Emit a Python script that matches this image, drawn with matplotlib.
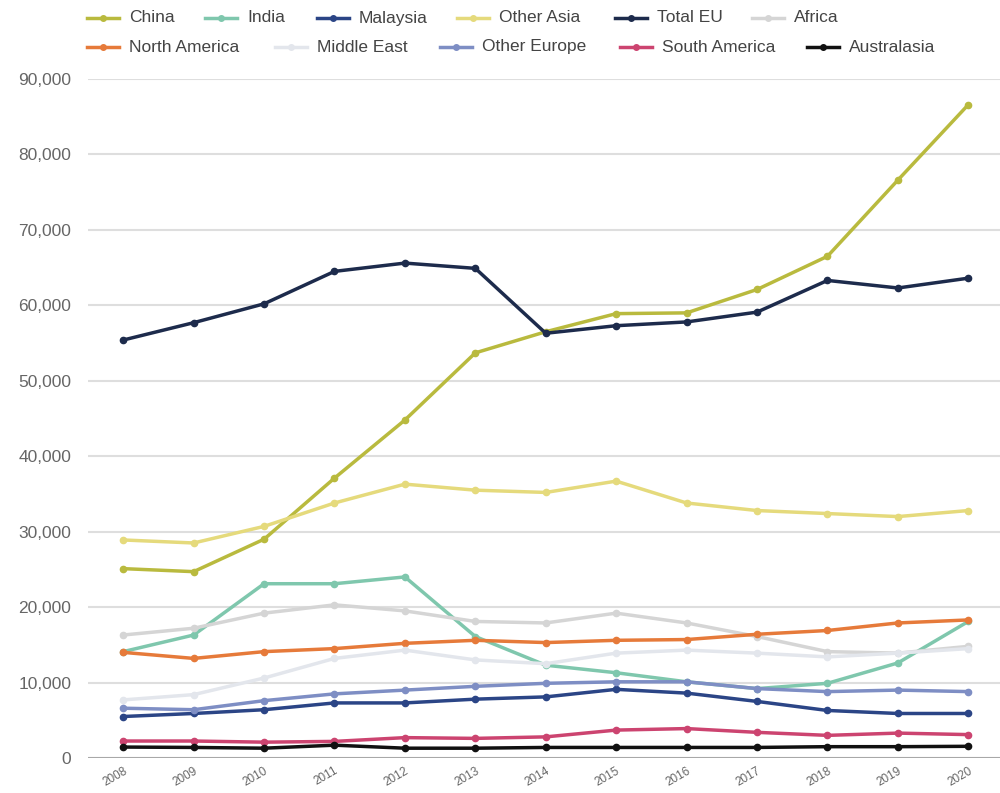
import matplotlib
matplotlib.use("Agg")
import matplotlib.pyplot as plt
from matplotlib.lines import Line2D
from matplotlib.ticker import FuncFormatter, MultipleLocator

plt.rcParams['font.family'] = ['Liberation Sans', 'DejaVu Sans']

years = ["2008", "2009", "2010", "2011", "2012", "2013", "2014",
         "2015", "2016", "2017", "2018", "2019", "2020"]

china = [25100, 24700, 29000, 37100, 44800, 53700, 56500, 58900, 59000, 62100, 66500, 76600, 86600]
india = [14100, 16300, 23100, 23100, 24000, 16100, 12300, 11300, 10100, 9200, 9900, 12600, 18100]
malaysia = [5500, 5900, 6400, 7300, 7300, 7800, 8100, 9100, 8600, 7500, 6300, 5900, 5900]
other_asia = [28900, 28500, 30700, 33800, 36300, 35500, 35200, 36700, 33800, 32800, 32400, 32000, 32800]
total_eu = [55400, 57700, 60200, 64500, 65600, 64900, 56300, 57300, 57800, 59100, 63300, 62300, 63600]
africa = [16300, 17200, 19200, 20300, 19500, 18100, 17900, 19200, 17900, 16100, 14100, 13900, 14800]
north_america = [14000, 13200, 14100, 14500, 15200, 15600, 15300, 15600, 15700, 16400, 16900, 17900, 18300]
middle_east = [7700, 8400, 10600, 13200, 14300, 13000, 12500, 13900, 14300, 13900, 13400, 13900, 14500]
other_europe = [6600, 6400, 7600, 8500, 9000, 9500, 9900, 10100, 10100, 9200, 8800, 9000, 8800]
south_america = [2250, 2250, 2100, 2200, 2700, 2600, 2800, 3700, 3900, 3400, 3000, 3300, 3100]
australasia = [1450, 1400, 1300, 1700, 1300, 1300, 1400, 1400, 1400, 1400, 1500, 1500, 1550]

series = [
    ("China", china, "#b9ba3e"),
    ("India", india, "#7fc7ad"),
    ("Malaysia", malaysia, "#2b4586"),
    ("Other Asia", other_asia, "#e5da7c"),
    ("Total EU", total_eu, "#1d2b4c"),
    ("Africa", africa, "#d5d5d5"),
    ("North America", north_america, "#e67a3a"),
    ("Middle East", middle_east, "#e3e6ec"),
    ("Other Europe", other_europe, "#7e8ec4"),
    ("South America", south_america, "#cc4470"),
    ("Australasia", australasia, "#111111"),
]

W, H = 1000, 793
fig = plt.figure(figsize=(W / 100, H / 100), dpi=100)
ax = fig.add_axes([88 / W, 35 / H, (W - 88) / W, (758 - 79) / H])

x = list(range(len(years)))
for name, vals, col in series:
    ax.plot(x, vals, color=col, lw=2.5, marker='o', ms=4.5,
            markerfacecolor=col, markeredgecolor=col, solid_capstyle='round', zorder=3)

ax.set_xlim(-0.5, 12.45)
ax.set_ylim(0, 90000)
ax.yaxis.set_major_locator(MultipleLocator(10000))
ax.yaxis.set_major_formatter(FuncFormatter(lambda v, p: f"{int(v):,}"))
ax.grid(axis='y', color='#dedede', lw=1.5, zorder=0)
ax.set_axisbelow(True)
for s in ax.spines.values():
    s.set_visible(False)
ax.axhline(0, color='#a8a8a8', lw=2.2, zorder=2)
ax.tick_params(axis='both', length=0, colors='#666666', labelsize=12.5)
ax.tick_params(axis='y', pad=12)
ax.set_xticks(x)
ax.set_xticklabels(years, rotation=30, ha='right', rotation_mode='anchor', fontsize=8.5)
ax.tick_params(axis='x', pad=5)

# legend in two flowing rows, drawn in figure pixels
row1_y, row2_y = 18, 47
starts = [87, 205, 317, 457, 615, 752, 87, 275, 440, 620, 807]
rows = [row1_y] * 6 + [row2_y] * 5
for (name, vals, col), sx, ry in zip(series, starts, rows):
    yy = 1 - ry / H
    fig.add_artist(Line2D([sx / W, (sx + 32) / W], [yy, yy], color=col, lw=2.5,
                          transform=fig.transFigure))
    fig.add_artist(Line2D([(sx + 16) / W], [yy], color=col, marker='o', ms=4,
                          transform=fig.transFigure))
    fig.text((sx + 42) / W, yy, name, ha='left', va='center', fontsize=12.5,
             color='#444444')

fig.savefig("out.png", dpi=100, facecolor='white')
